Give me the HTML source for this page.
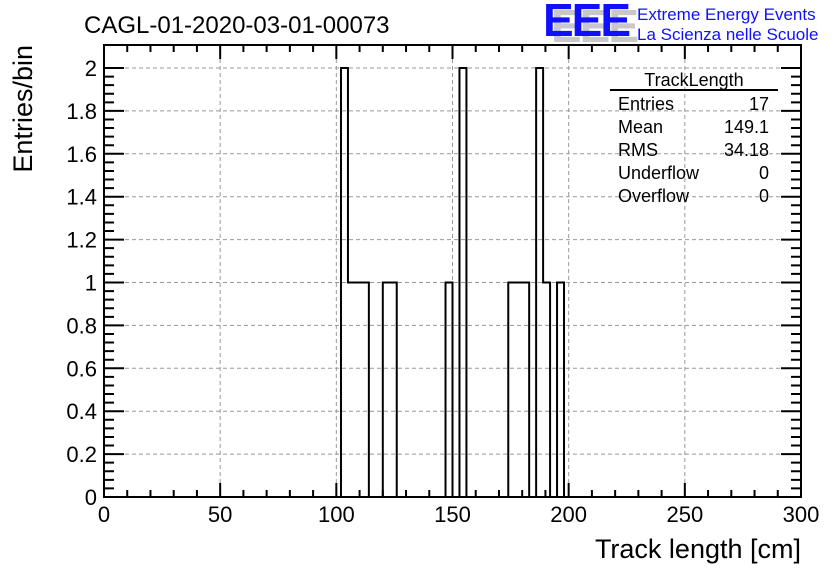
<!DOCTYPE html>
<html><head><meta charset="utf-8"><style>
body{margin:0;background:#fff;}
svg text{font-family:"Liberation Sans",sans-serif;}
</style></head><body>
<svg width="836" height="572" xmlns="http://www.w3.org/2000/svg">
<g id="grid"></g>
<g id="ticks"></g>
<path id="hist" fill="none" stroke="#000" stroke-width="2"/>
<rect x="104" y="45" width="697" height="452" fill="none" stroke="#000" stroke-width="2"/>
<g id="labels" font-size="22"></g>
<text x="801" y="558" font-size="27" text-anchor="end">Track length [cm]</text>
<text transform="translate(32,45) rotate(-90)" font-size="27" text-anchor="end">Entries/bin</text>
<text x="84" y="33" font-size="24">CAGL-01-2020-03-01-00073</text>
<g font-weight="bold" font-size="46">
<text x="551" y="42" fill="#c8c8c8" letter-spacing="-2">EEE</text>
<text x="543" y="36" fill="#1010ff" letter-spacing="-2">EEE</text>
</g>
<text x="637" y="20" font-size="17" fill="#1010ff">Extreme Energy Events</text>
<text x="637" y="40" font-size="17" fill="#1010ff">La Scienza nelle Scuole</text>
<g font-size="18">
<text x="694" y="86" text-anchor="middle">TrackLength</text>
<line x1="610" y1"90" y2="90" x2="778" y1="90" stroke="#000" stroke-width="2"/>
<text x="618" y="110">Entries</text><text x="769" y="110" text-anchor="end">17</text>
<text x="618" y="133">Mean</text><text x="769" y="133" text-anchor="end">149.1</text>
<text x="618" y="156">RMS</text><text x="769" y="156" text-anchor="end">34.18</text>
<text x="618" y="179">Underflow</text><text x="769" y="179" text-anchor="end">0</text>
<text x="618" y="202">Overflow</text><text x="769" y="202" text-anchor="end">0</text>
</g>
</svg>
<script>
const binEdges=[102,105,108,111,114,117,120,123,126,129,132,135,138,141,144,147,150,153,156,159,162,165,168,171,174,177,180,183,186,189,192,195,198];
const counts=[2,1,1,1,0,0,1,1,0,0,0,0,0,0,0,1,0,2,0,0,0,0,0,0,1,1,1,0,2,1,0,1];
const xTicks=[0,50,100,150,200,250,300];
const yTicks=[0,0.2,0.4,0.6,0.8,1,1.2,1.4,1.6,1.8,2];
const yLabels=["0","0.2","0.4","0.6","0.8","1","1.2","1.4","1.6","1.8","2"];
const NS="http://www.w3.org/2000/svg";
const X0=104,X1=801,Y0=497,Y2=68;
const xs=v=>X0+(v-0)/300*(X1-X0);
const ys=v=>Y0-(v/2)*(Y0-Y2);
function mk(tag,attrs,parent){const e=document.createElementNS(NS,tag);for(const k in attrs)e.setAttribute(k,attrs[k]);parent.appendChild(e);return e;}
const grid=document.getElementById('grid'),ticks=document.getElementById('ticks'),labels=document.getElementById('labels');
xTicks.forEach((t,i)=>{
  if(t>0&&t<300){const l=mk('line',{x1:xs(t),x2:xs(t),y1:45,y2:497,stroke:'#999','stroke-dasharray':'4,3'},grid);
  
  }
  const tx=mk('text',{x:xs(t),y:522,'text-anchor':'middle'},labels);tx.textContent=String(t);
  
  
});
yTicks.forEach((t,i)=>{
  if(t>0){const l=mk('line',{x1:104,x2:801,y1:ys(t),y2:ys(t),stroke:'#999','stroke-dasharray':'4,3'},grid);
  
  }
  const tx=mk('text',{x:97,y:ys(t)+8,'text-anchor':'end'},labels);tx.textContent=yLabels[i];
  
  
});
let d='';
for(let v=0;v<=300;v+=10){const L=(v%50===0)?14:7;
 d+=`M${xs(v)},${Y0}v${-L}M${xs(v)},45v${L}`;}
for(let i=0;i<=50;i++){const v=i*0.04;if(ys(v)<45)break;const L=(i%5===0)?20:10;
 d+=`M${X0},${ys(v)}h${L}M${X1},${ys(v)}h${-L}`;}
mk('path',{d:d,stroke:'#000','stroke-width':2,fill:'none'},ticks);
let p=`M${xs(binEdges[0])},${ys(0)}`;
counts.forEach((c,i)=>{p+=`L${xs(binEdges[i])},${ys(c)}L${xs(binEdges[i+1])},${ys(c)}`;});
p+=`L${xs(binEdges[binEdges.length-1])},${ys(0)}`;
document.getElementById('hist').setAttribute('d',p);
</script>
</body></html>
